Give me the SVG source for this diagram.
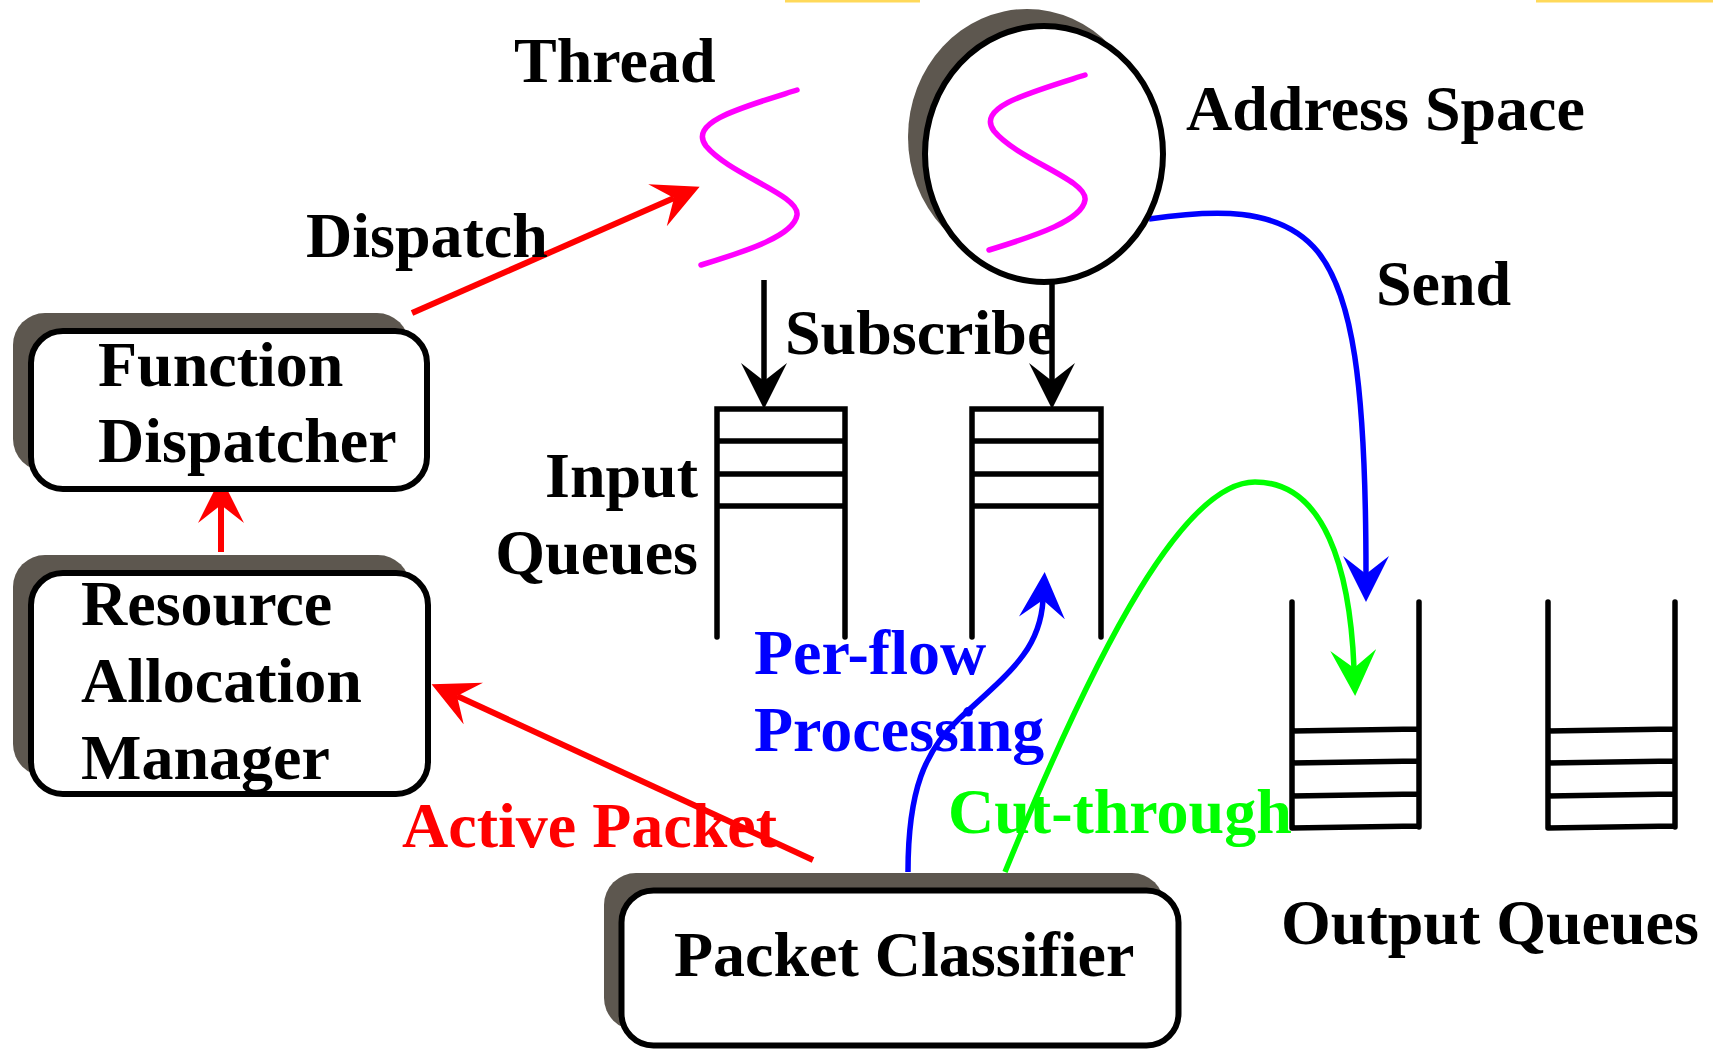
<svg xmlns="http://www.w3.org/2000/svg" width="1713" height="1050" viewBox="0 0 1713 1050">
<defs>
<style>
text{font-family:"Liberation Serif","Times New Roman",serif;font-weight:bold;font-size:64px;fill:#000}
.box{fill:#fff;stroke:#000;stroke-width:6}
.shadow{fill:#5d574f}
.q{fill:none;stroke:#000;stroke-width:5.5;stroke-linecap:round}
.thr{fill:none;stroke:#ff00ff;stroke-width:5.5;stroke-linecap:round}
.c{fill:none}
</style>
<marker id="ahR" viewBox="-46 -23 46 46" refX="-28" refY="0" markerWidth="46" markerHeight="46" markerUnits="userSpaceOnUse" orient="auto"><path d="M0,0 L-46,-23 L-28,0 L-46,23 Z" fill="#ff0000"/></marker>
<marker id="ahK" viewBox="-46 -23 46 46" refX="-28" refY="0" markerWidth="46" markerHeight="46" markerUnits="userSpaceOnUse" orient="auto"><path d="M0,0 L-46,-23 L-28,0 L-46,23 Z" fill="#000"/></marker>
<marker id="ahB" viewBox="-46 -23 46 46" refX="-28" refY="0" markerWidth="46" markerHeight="46" markerUnits="userSpaceOnUse" orient="auto"><path d="M0,0 L-46,-23 L-28,0 L-46,23 Z" fill="#0000ff"/></marker>
<marker id="ahG" viewBox="-46 -23 46 46" refX="-28" refY="0" markerWidth="46" markerHeight="46" markerUnits="userSpaceOnUse" orient="auto"><path d="M0,0 L-46,-23 L-28,0 L-46,23 Z" fill="#00ff00"/></marker>
<path id="squiggle" d="M797,90 C740,108 688,122 706,146 C730,175 800,195 797,215 C794,235 750,250 701,265"/>
</defs>
<rect x="0" y="0" width="1713" height="1050" fill="#fff"/>
<rect x="785" y="0" width="135" height="2.5" fill="#ffd95a"/>
<rect x="1536" y="0" width="177" height="2.5" fill="#ffd95a"/>

<g id="connectors">
<path class="c" d="M412,313 L674,198" stroke="#ff0000" stroke-width="6" marker-end="url(#ahR)"/>
<path class="c" d="M221,552 L221,505" stroke="#ff0000" stroke-width="6" marker-end="url(#ahR)"/>
<path class="c" d="M813,860 L457,696" stroke="#ff0000" stroke-width="6" marker-end="url(#ahR)"/>
<path class="c" d="M764,280 L764,381" stroke="#000" stroke-width="5.5" marker-end="url(#ahK)"/>
<path class="c" d="M1052,282 L1052,381" stroke="#000" stroke-width="5.5" marker-end="url(#ahK)"/>
<path class="c" d="M1149,219 C1210,210 1280,205 1318,252 C1352,295 1366,380 1366,574" stroke="#0000ff" stroke-width="5.5" marker-end="url(#ahB)"/>
<path class="c" d="M908,872 C908,790 925,750 960,718 C1010,672 1040,650 1043,600" stroke="#0000ff" stroke-width="5.5" marker-end="url(#ahB)"/>
<path class="c" d="M1005,872 C1100,640 1185,482 1255,482 C1325,482 1350,570 1354,668" stroke="#00ff00" stroke-width="5.5" marker-end="url(#ahG)"/>
</g>

<g id="function-dispatcher">
<rect class="shadow" x="13" y="313" width="396" height="158" rx="32"/>
<rect class="box" x="31" y="331" width="396" height="158" rx="32"/>
<text x="98" y="386">Function</text>
<text x="98" y="462">Dispatcher</text>
</g>

<g id="resource-allocation-manager">
<rect class="shadow" x="13" y="555" width="397" height="221" rx="32"/>
<rect class="box" x="31" y="573" width="397" height="221" rx="32"/>
<text x="81" y="625">Resource</text>
<text x="81" y="702">Allocation</text>
<text x="81" y="779">Manager</text>
</g>

<g id="packet-classifier">
<rect class="shadow" x="604" y="873" width="560" height="157" rx="32"/>
<rect class="box" x="621.5" y="890.5" width="557" height="155" rx="32"/>
<text x="674" y="976">Packet Classifier</text>
</g>

<g id="thread">
<use href="#squiggle" class="thr"/>
<text x="514" y="82">Thread</text>
</g>

<g id="address-space">
<ellipse class="shadow" cx="1027" cy="137" rx="119" ry="128"/>
<ellipse class="box" cx="1044" cy="154" rx="119" ry="128"/>
<use href="#squiggle" class="thr" transform="translate(288,-15)"/>
<text x="1186" y="130">Address Space</text>
</g>

<g id="input-queue-1">
<path class="q" d="M717,637 L717,409 L845,409 L845,637 M717,441 L845,441 M717,474 L845,474 M717,506 L845,506"/>
</g>
<g id="input-queue-2">
<path class="q" d="M972,637 L972,409 L1101,409 L1101,637 M972,441 L1101,441 M972,474 L1101,474 M972,506 L1101,506"/>
</g>
<g id="input-queues-label">
<text x="698" y="497" text-anchor="end">Input</text>
<text x="698" y="574" text-anchor="end">Queues</text>
</g>

<g id="output-queue-1">
<path class="q" d="M1292,602 L1292,828 M1419,602 L1419,827 M1292,731 L1419,729 M1292,763 L1419,761 M1292,796 L1419,794 M1292,828 L1419,826"/>
</g>
<g id="output-queue-2">
<path class="q" d="M1548,602 L1548,828 M1675,602 L1675,827 M1548,731 L1675,729 M1548,763 L1675,761 M1548,796 L1675,794 M1548,828 L1675,826"/>
</g>
<g id="output-queues-label">
<text x="1281" y="944">Output Queues</text>
</g>

<g id="connector-labels">
<text x="306" y="257">Dispatch</text>
<text x="785" y="354">Subscribe</text>
<text x="1376" y="305">Send</text>
<text x="754" y="674" style="fill:#0000ff">Per-flow</text>
<text x="754" y="751" style="fill:#0000ff">Processing</text>
<text x="402" y="847" style="fill:#ff0000">Active Packet</text>
<text x="948" y="833" style="fill:#00ff00">Cut-through</text>
</g>
</svg>
